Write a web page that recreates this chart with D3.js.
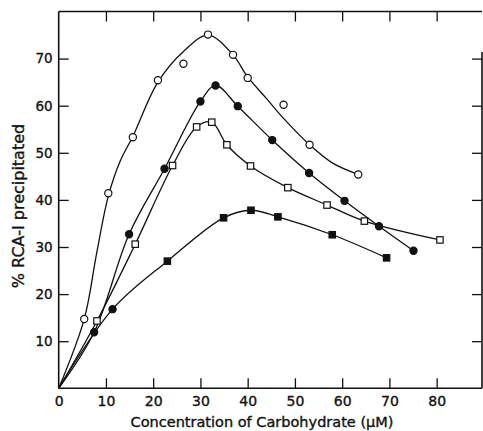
<!DOCTYPE html>
<html>
<head>
<meta charset="utf-8">
<script src="https://cdn.jsdelivr.net/npm/d3@7"></script>
<style>
  html, body { margin: 0; padding: 0; background: #fff; }
  svg { display: block; }
  text { font-family: "DejaVu Sans", sans-serif; fill: #111; stroke: #111; stroke-width: 0.35px; }
</style>
</head>
<body>
<script>
// ---------- data ----------
const xTicks = [0, 10, 20, 30, 40, 50, 60, 70, 80];
const yTicks = [10, 20, 30, 40, 50, 60, 70];

// open circles
const openCircleX = [5.4, 10.5, 15.7, 21.0, 26.4, 31.6, 36.9, 40.0, 47.6, 53.1, 63.4];
const openCircleY = [14.7, 41.4, 53.3, 65.4, 68.9, 75.1, 70.8, 65.9, 60.2, 51.7, 45.4];
// fitted (hand-drawn) curve for open circles
const openCircleFitX = [0, 5.4, 8.0, 10.5, 13.0, 15.7, 21.0, 26.4, 31.6, 36.9, 40.0, 44.0, 47.6, 53.1, 58.0, 63.4];
const openCircleFitY = [0, 14.7, 28.5, 40.8, 48.2, 53.5, 65.0, 71.5, 75.0, 70.8, 66.1, 61.5, 57.3, 51.7, 47.8, 45.4];

// filled circles
const filledCircleX = [7.5, 14.9, 22.4, 30.0, 33.2, 37.9, 45.2, 53.0, 60.5, 67.8, 75.1];
const filledCircleY = [11.9, 32.7, 46.6, 60.9, 64.3, 59.9, 52.7, 45.7, 39.8, 34.4, 29.2];

// open squares
const openSquareX = [8.1, 16.2, 24.1, 29.2, 32.4, 35.6, 40.6, 48.5, 56.8, 64.7, 80.7];
const openSquareY = [14.3, 30.6, 47.3, 55.5, 56.5, 51.7, 47.2, 42.6, 38.9, 35.5, 31.5];

// filled squares (first point drawn as a dot in the original)
const filledSquareX = [11.4, 23.0, 34.9, 40.7, 46.4, 57.9, 69.4];
const filledSquareY = [16.8, 27.0, 36.2, 37.8, 36.4, 32.6, 27.7];
const filledSquareShape = ["circle", "square", "square", "square", "square", "square", "square"];

// ---------- layout ----------
const W = 483, H = 431;
const svg = d3.select("body").append("svg").attr("width", W).attr("height", H);

const x = d3.scaleLinear().domain([0, 89.6]).range([58.7, 482]);
const y = d3.scaleLinear().domain([0, 80]).range([388.3, 11.5]);

const [x0, x1] = x.range();
const [y0, y1] = y.range();

// axes
const axisStyle = g => {
  g.select(".domain").remove();
  g.selectAll(".tick line").attr("stroke", "#111").attr("stroke-width", 1.3);
  g.selectAll(".tick text").attr("font-family", "DejaVu Sans, sans-serif").attr("fill", "#111");
};

svg.append("g").attr("transform", `translate(0,${y0})`)
  .call(d3.axisBottom(x).tickValues(xTicks).tickFormat(d3.format("d")).tickSize(-10).tickPadding(8))
  .call(axisStyle)
  .call(g => g.selectAll(".tick text").attr("font-size", 14))
  .call(g => g.selectAll(".tick").filter(d => d === 0).select("line").remove());

svg.append("g").attr("transform", `translate(0,${y1})`)
  .call(d3.axisTop(x).tickValues(xTicks.filter(d => d > 0)).tickSize(-10).tickFormat(""))
  .call(axisStyle);

svg.append("g").attr("transform", `translate(${x0},0)`)
  .call(d3.axisLeft(y).tickValues(yTicks).tickFormat(d3.format("d")).tickSize(-10).tickPadding(6))
  .call(axisStyle)
  .call(g => g.selectAll(".tick text").attr("font-size", 13.5));

svg.append("g").attr("transform", `translate(${x1},0)`)
  .call(d3.axisRight(y).tickValues(yTicks).tickSize(-10).tickFormat(""))
  .call(axisStyle);

// frame
const frame = svg.append("g").attr("stroke", "#111").attr("stroke-width", 1.6).attr("fill", "none");
frame.append("line").attr("x1", x0).attr("x2", x0).attr("y1", y1).attr("y2", y0);
frame.append("line").attr("x1", x0).attr("x2", x1).attr("y1", y0).attr("y2", y0);
frame.append("line").attr("x1", x0).attr("x2", x1).attr("y1", y1).attr("y2", y1);
frame.append("line").attr("x1", x1).attr("x2", x1).attr("y1", y(71.4)).attr("y2", y0);

// lines
const lineCR = d3.line().x(d => x(d[0])).y(d => y(d[1])).curve(d3.curveCatmullRom.alpha(0.5));
const withOrigin = (xs, ys) => [[0, 0]].concat(xs.map((v, i) => [v, ys[i]]));
const zip = (xs, ys) => xs.map((v, i) => [v, ys[i]]);

const lines = svg.append("g").attr("fill", "none").attr("stroke", "#111").attr("stroke-width", 1.3);
lines.append("path").attr("d", lineCR(zip(openCircleFitX, openCircleFitY)));
lines.append("path").attr("d", lineCR(withOrigin(filledCircleX, filledCircleY)));
lines.append("path").attr("d", lineCR(withOrigin(openSquareX, openSquareY)));
lines.append("path").attr("d", lineCR(withOrigin(filledSquareX, filledSquareY)));

// markers
const mk = svg.append("g").attr("stroke", "#111").attr("stroke-width", 1.2);
const R = 3.6, S = 6.4;
function circles(xs, ys, fill) {
  mk.selectAll(null).data(zip(xs, ys)).enter().append("circle")
    .attr("cx", d => x(d[0])).attr("cy", d => y(d[1])).attr("r", R).attr("fill", fill);
}
function squares(xs, ys, fill) {
  mk.selectAll(null).data(zip(xs, ys)).enter().append("rect")
    .attr("x", d => x(d[0]) - S / 2).attr("y", d => y(d[1]) - S / 2)
    .attr("width", S).attr("height", S).attr("fill", fill);
}
circles(openCircleX, openCircleY, "#fff");
circles(filledCircleX, filledCircleY, "#111");
squares(openSquareX, openSquareY, "#fff");
const fsPts = zip(filledSquareX, filledSquareY).map((d, i) => ({ d, s: filledSquareShape[i] }));
circles(fsPts.filter(p => p.s === "circle").map(p => p.d[0]), fsPts.filter(p => p.s === "circle").map(p => p.d[1]), "#111");
squares(fsPts.filter(p => p.s === "square").map(p => p.d[0]), fsPts.filter(p => p.s === "square").map(p => p.d[1]), "#111");

// titles
svg.append("text").attr("x", 262).attr("y", 427).attr("text-anchor", "middle")
  .attr("font-size", 14.5).text("Concentration of Carbohydrate (μM)");
svg.append("text").attr("transform", "translate(24,206) rotate(-90)").attr("text-anchor", "middle")
  .attr("font-size", 16).text("% RCA-I precipitated");
</script>
</body>
</html>
